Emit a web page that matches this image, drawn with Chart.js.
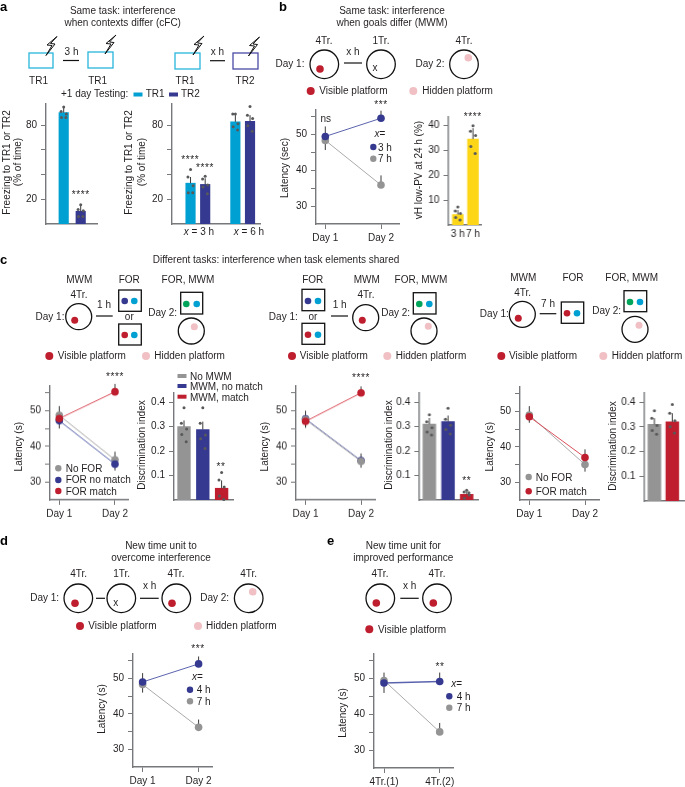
<!DOCTYPE html>
<html>
<head>
<meta charset="utf-8">
<script src="https://cdn.jsdelivr.net/npm/chart.js@4/dist/chart.umd.min.js"></script>
<style>
  html, body { margin: 0; padding: 0; background: #fff; }
  #page { position: relative; width: 685px; height: 787px; overflow: hidden; }
  canvas { position: absolute; }
  svg { position: absolute; left: 0; top: 0; pointer-events: none; }
  svg text { font-family: "Liberation Sans", Arial, sans-serif; font-size: 10px; fill: #231f20; }
</style>
</head>
<body>
<div id="page"><svg id="art" width="685" height="787"></svg></div>
<script>
var CYAN = '#00a0d2', NAVY = '#35398f', RED = '#be1e2d', GREY = '#949494', YELLOW = '#fcd617';
var LINE_BLUE = '#5a63ad', LINE_GREY = '#aaaaaa', LINE_RED = '#d9505c';
var AXIS = '#77787b', INK = '#231f20';

// panel a
var aLeftValues = [90, 10.3];
var aLeftDots = [[94.5, 91, 89, 86, 86], [15.5, 11.8, 10.7, 6, 6]];
var aLeftErrTop = [94, 15];
var aMidValues = [33, 32, 82.6, 83];
var aMidDots = [[44, 38, 31, 25.3, 25.3], [38.5, 36.4, 31.6, 30, 24.5], [89, 89, 81, 78.7, 76], [95, 88, 85.3, 79.5, 75]];
var aMidErrTop = [38, 37, 88, 88];
var freezeTicks = [20, 40, 60, 80];
var freezeLabels = [20, 80];

// panel b
var days = ['Day 1', 'Day 2'];
var bLine3h = [49.5, 54.6];
var bLine7h = [48.4, 35.9];
var bLine3hErr = [[49.5, 52.3], [54.6, 56.7]];
var bLine7hErr = [[45.7, 48.4], [35.9, 38.6]];
var latencyTicks = [30, 35, 40, 45, 50, 55];
var latencyLabels = [30, 40, 50];
var bBarValues = [4.2, 34.6];
var bBarDots = [[7.2, 5.6, 4.6, 3, 2], [40, 37.8, 36, 31.6, 28.8]];
var bBarErrTop = [6, 39];
var bBarCats = ['3 h', '7 h'];
var pvTicks = [10, 20, 30, 40];

// panel c
var c1NoFor = [48.7, 36.2];
var c1NoMatch = [47.2, 35];
var c1Match = [47.8, 55.3];
var c1NoForErr = [[48.7, 51.3], [36.2, 38.5]];
var c1NoMatchErr = [[45, 47.2], [33.2, 35]];
var c1MatchErr = [[47.8, 49], [55.3, 57.5]];
var c1Values = [0.3, 0.288, 0.048];
var c1Dots = [[0.377, 0.313, 0.29, 0.268, 0.238], [0.377, 0.313, 0.265, 0.25, 0.21], [0.112, 0.082, 0.053, 0.016, 0.002]];
var c1ErrTop = [0.325, 0.32, 0.08];
var c2NoFor = [47.5, 35.8];
var c2NoMatch = [47.7, 36];
var c2Match = [47, 55];
var c2NoForErr = [[45.5, 50], [34, 38]];
var c2MatchErr = [[45.2, 47], [55, 56.8]];
var c2Values = [0.31, 0.32, 0.023];
var c2Dots = [[0.348, 0.32, 0.295, 0.278, 0.265], [0.375, 0.33, 0.305, 0.288, 0.27], [0.04, 0.033, 0.02, 0.007, 0.03]];
var c2ErrTop = [0.335, 0.345, 0.035];
var c3NoFor = [49, 35];
var c3Match = [48.5, 37];
var c3NoForErr = [[49, 51.5], [33, 35]];
var c3MatchErr = [[46.8, 48.5], [37, 39.3]];
var c3Values = [0.31, 0.32];
var c3Dots = [[0.365, 0.335, 0.305, 0.285, 0.27], [0.39, 0.355, 0.325, 0.3, 0.275]];
var c3ErrTop = [0.335, 0.355];
var indexTicks = [0.1, 0.2, 0.3, 0.4];

// panels d, e
var d4h = [49, 54.1];
var d7h = [48.3, 36.2];
var d4hErr = [[49, 51.5], [54.1, 56.2]];
var d7hErr = [[46, 48.3], [36.2, 38.4]];
var eCats = ['4Tr.(1)', '4Tr.(2)'];
var e4h = [48.8, 49.2];
var e7h = [49.5, 35.1];
var e4hErr = [[46, 48.8], [49.2, 51.7]];
var e7hErr = [[49.5, 51.7], [35.1, 37.6]];

var page = document.getElementById('page');
var art = document.getElementById('art');
var dotJitterPx = [0, -2.6, 2.6, -2.2, 2.2];
var FONT = { family: '"Liberation Sans", Arial, sans-serif', size: 10 };

Chart.defaults.color = INK;
Chart.defaults.font.family = FONT.family;
Chart.defaults.font.size = FONT.size;

// a canvas placed so that its plot area lands on the given axis box
function place(box, config) {
    var W = 40, H = 30, T = 8, R = 8;
    var c = document.createElement('canvas');
    var w = W + box.x1 - box.x0 + R, h = T + box.y1 - box.y0 + H;
    c.width = w; c.height = h;
    c.style.left = (box.x0 - W) + 'px';
    c.style.top = (box.y0 - T) + 'px';
    c.style.width = w + 'px'; c.style.height = h + 'px';
    page.insertBefore(c, art);
    config.options.responsive = false;
    config.options.animation = false;
    config.options.layout = { padding: { top: T, right: R, left: 0, bottom: 0 } };
    config.options.plugins = { legend: { display: false }, tooltip: { enabled: false } };
    config.options.scales.x.afterFit = function (s) { s.height = H; };
    config.options.scales.y.afterFit = function (s) { s.width = W; };
    return new Chart(c.getContext('2d'), config);
}

function yAxis(min, max, ticks, labels) {
    return {
        type: 'linear', min: min, max: max,
        afterBuildTicks: function (s) { s.ticks = ticks.map(function (v) { return { value: v }; }); },
        border: { color: AXIS, width: 1.4 },
        grid: { drawOnChartArea: false, color: AXIS, tickLength: 5, tickWidth: 1 },
        ticks: {
            autoSkip: false, padding: 4, color: INK,
            callback: function (v) { return labels.indexOf(v) >= 0 ? String(v) : ''; }
        }
    };
}

function errorSet(x, lo, hi) {
    return {
        type: 'line', data: [{ x: x, y: lo }, { x: x, y: hi }], borderColor: '#3a3a3a',
        borderWidth: 1, pointRadius: 0, clip: false
    };
}

function barPanel(p) {
    var pxPerUnit = p.spacing;
    var sets = [];
    var dots = [];
    p.dots.forEach(function (list, i) {
        list.forEach(function (v, j) { dots.push({ x: p.xs[i] + dotJitterPx[j] / pxPerUnit, y: v }); });
    });
    sets.push({ type: 'scatter', data: dots, pointRadius: 1.5, pointBackgroundColor: '#58595b', pointBorderWidth: 0, clip: false });
    p.values.forEach(function (v, i) { sets.push(errorSet(p.xs[i], v, p.errTop[i])); });
    sets.push({
        type: 'bar',
        data: p.values.map(function (v, i) { return { x: p.xs[i], y: v }; }),
        backgroundColor: p.colors, barThickness: p.thick, borderWidth: 0
    });
    var xMin = p.xs[0] - (p.xFirst - p.box.x0) / pxPerUnit;
    var xMax = xMin + (p.box.x1 - p.box.x0) / pxPerUnit;
    place(p.box, {
        type: 'bar',
        data: { datasets: sets },
        options: {
            scales: {
                x: {
                    type: 'linear', min: xMin, max: xMax, offset: false,
                    afterBuildTicks: function (s) {
                        s.ticks = p.cats ? p.xs.map(function (v) { return { value: v }; }) : [];
                    },
                    border: { color: AXIS, width: 1.4 },
                    grid: { display: false, drawTicks: false },
                    ticks: {
                        autoSkip: false, maxRotation: 0, padding: 3, color: INK, display: !!p.cats,
                        callback: function (v) { return p.cats ? p.cats[p.xs.indexOf(v)] : ''; }
                    }
                },
                y: yAxis(p.yMin, p.yMax, p.yTicks, p.yLabels)
            }
        }
    });
}

function linePanel(p) {
    var sets = [];
    p.series.forEach(function (s) {
        sets.push({
            type: 'line',
            data: s.values.map(function (v, i) { return { x: i + 1, y: v }; }),
            borderColor: s.line, borderWidth: s.width || 1, tension: 0,
            pointRadius: 3.8, pointBackgroundColor: s.color, pointBorderWidth: 0, clip: false
        });
    });
    p.series.forEach(function (s) {
        (s.err || []).forEach(function (e, i) { sets.push(errorSet(i + 1, e[0], e[1])); });
    });
    var unit = p.xDay2 - p.xDay1;
    var xMin = 1 - (p.xDay1 - p.box.x0) / unit;
    var xMax = xMin + (p.box.x1 - p.box.x0) / unit;
    place(p.box, {
        type: 'line',
        data: { datasets: sets },
        options: {
            scales: {
                x: {
                    type: 'linear', min: xMin, max: xMax,
                    afterBuildTicks: function (s) { s.ticks = [{ value: 1 }, { value: 2 }]; },
                    border: { color: AXIS, width: 1.4 },
                    grid: { drawOnChartArea: false, color: AXIS, tickLength: 5 },
                    ticks: {
                        autoSkip: false, maxRotation: 0, padding: 3, color: INK,
                        callback: function (v) { return p.cats[v - 1]; }
                    }
                },
                y: yAxis(25, 56.9, latencyTicks, latencyLabels)
            }
        }
    });
}

// ---------- the charts ----------
barPanel({ box: { x0: 46, x1: 97, y0: 102, y1: 224 }, xs: [1, 2], xFirst: 63.7, spacing: 17, thick: 9.5,
    values: aLeftValues, dots: aLeftDots, errTop: aLeftErrTop, colors: [CYAN, NAVY],
    yMin: 0, yMax: 97, yTicks: freezeTicks, yLabels: freezeLabels });
barPanel({ box: { x0: 171.7, x1: 260, y0: 102, y1: 224 }, xs: [1, 2, 4.06, 5.06], xFirst: 190.3, spacing: 14.7, thick: 9.5,
    values: aMidValues, dots: aMidDots, errTop: aMidErrTop, colors: [CYAN, NAVY, CYAN, NAVY],
    yMin: 0, yMax: 97, yTicks: freezeTicks, yLabels: freezeLabels });

linePanel({ box: { x0: 316, x1: 399, y0: 108.3, y1: 224.3 }, xDay1: 325.3, xDay2: 381, cats: days, series: [
    { values: bLine3h, color: NAVY, line: LINE_BLUE, err: bLine3hErr },
    { values: bLine7h, color: GREY, line: LINE_GREY, err: bLine7hErr }] });
barPanel({ box: { x0: 448.3, x1: 481, y0: 115, y1: 225 }, xs: [1, 2], xFirst: 457.7, spacing: 15.3, thick: 10.7,
    values: bBarValues, dots: bBarDots, errTop: bBarErrTop, colors: [YELLOW, YELLOW], cats: bBarCats,
    yMin: 0, yMax: 43.5, yTicks: pvTicks, yLabels: pvTicks });

linePanel({ box: { x0: 50, x1: 128, y0: 384.3, y1: 500 }, xDay1: 59.3, xDay2: 115, cats: days, series: [
    { values: c1Match, color: RED, line: LINE_RED, err: c1MatchErr },
    { values: c1NoMatch, color: NAVY, line: LINE_BLUE, err: c1NoMatchErr },
    { values: c1NoFor, color: GREY, line: LINE_GREY, err: c1NoForErr }] });
barPanel({ box: { x0: 174, x1: 233, y0: 390.7, y1: 500 }, xs: [1, 2, 3], xFirst: 184, spacing: 18.8, thick: 12.7,
    values: c1Values, dots: c1Dots, errTop: c1ErrTop, colors: [GREY, NAVY, RED],
    yMin: 0, yMax: 0.437, yTicks: indexTicks, yLabels: indexTicks });

linePanel({ box: { x0: 295.7, x1: 375, y0: 384.3, y1: 500 }, xDay1: 305.3, xDay2: 361, cats: days, series: [
    { values: c2Match, color: RED, line: LINE_RED, err: c2MatchErr },
    { values: c2NoFor, color: GREY, line: LINE_GREY, err: c2NoForErr },
    { values: c2NoMatch, color: NAVY, line: LINE_BLUE }] });
barPanel({ box: { x0: 419.3, x1: 478, y0: 390.7, y1: 500 }, xs: [1, 2, 3], xFirst: 429.3, spacing: 18.7, thick: 12.7,
    values: c2Values, dots: c2Dots, errTop: c2ErrTop, colors: [GREY, NAVY, RED],
    yMin: 0, yMax: 0.437, yTicks: indexTicks, yLabels: indexTicks });

linePanel({ box: { x0: 520, x1: 599, y0: 385, y1: 500 }, xDay1: 529.3, xDay2: 585, cats: days, series: [
    { values: c3Match, color: RED, line: LINE_RED, err: c3MatchErr },
    { values: c3NoFor, color: GREY, line: LINE_GREY, err: c3NoForErr }] });
barPanel({ box: { x0: 644.3, x1: 684, y0: 391, y1: 501 }, xs: [1, 2], xFirst: 654.3, spacing: 18, thick: 12.7,
    values: c3Values, dots: c3Dots, errTop: c3ErrTop, colors: [GREY, RED],
    yMin: 0, yMax: 0.437, yTicks: indexTicks, yLabels: indexTicks });

linePanel({ box: { x0: 132.7, x1: 211.7, y0: 651.7, y1: 767.3 }, xDay1: 142.3, xDay2: 198.3, cats: days, series: [
    { values: d4h, color: NAVY, line: LINE_BLUE, err: d4hErr },
    { values: d7h, color: GREY, line: LINE_GREY, err: d7hErr }] });
linePanel({ box: { x0: 374.3, x1: 453.3, y0: 652.3, y1: 768.3 }, xDay1: 384.3, xDay2: 440, cats: eCats, series: [
    { values: e4h, color: NAVY, line: LINE_BLUE, width: 1.6, err: e4hErr },
    { values: e7h, color: GREY, line: LINE_GREY, err: e7hErr }] });

// ---------- text and schematics ----------
var NS = 'http://www.w3.org/2000/svg';
function el(name, attrs) {
    var e = document.createElementNS(NS, name);
    for (var k in attrs) e.setAttribute(k, attrs[k]);
    art.appendChild(e);
    return e;
}
function txt(x, y, s, anchor, extra) {
    var e = el('text', Object.assign({ x: x, y: y, 'text-anchor': anchor || 'middle' }, extra || {}));
    e.innerHTML = s;
    return e;
}
function stars(x, y, s) { return txt(x, y, s, 'middle', { 'letter-spacing': '0.6' }); }
function vtxt(x, y, s) { return el('text', { transform: 'translate(' + x + ',' + y + ') rotate(-90)', 'text-anchor': 'middle', 'dominant-baseline': 'central' }).innerHTML = s; }
function dot(x, y, r, c) { el('circle', { cx: x, cy: y, r: r, fill: c }); }
function ring(x, y, r) { el('circle', { cx: x, cy: y, r: r, fill: 'none', stroke: '#111', 'stroke-width': 1.3 }); }
function box(x0, y0, x1, y1, c, w) { el('rect', { x: x0, y: y0, width: x1 - x0, height: y1 - y0, fill: 'none', stroke: c, 'stroke-width': w }); }
function link(x0, x1, y) { el('line', { x1: x0, x2: x1, y1: y, y2: y, stroke: '#111', 'stroke-width': 1.2 }); }
function bolt(x, y) {
    var pts = [[11, -19], [1, -10.5], [6, -10], [0, 0], [9, -11.5], [4.5, -12]].map(function (p) { return [x + p[0], y + p[1]]; });
    el('polygon', { points: pts.join(' '), fill: 'none', stroke: '#111', 'stroke-width': 1 });
}
function letter(x, y, s) { txt(x, y, s, 'start', { style: 'font-weight:bold;font-size:13px;fill:#000' }); }
function swatch(x, y, c) { el('rect', { x: x, y: y, width: 9, height: 4, fill: c }); }
function vis(x, tx, y) { dot(x, y, 4, RED); txt(tx, y + 3.4, 'Visible platform', 'start'); }
function hid(x, tx, y) { dot(x, y, 4, '#f0c0c4'); txt(tx, y + 3.4, 'Hidden platform', 'start'); }
var X_ITALIC = '<tspan font-style="italic">x</tspan>';
var PINK = '#f0c0c4';

letter(0, 10.5, 'a'); letter(279, 10.5, 'b'); letter(0, 264, 'c'); letter(0, 545, 'd'); letter(327, 545, 'e');

// a
txt(122.7, 13.5, 'Same task: interference'); txt(122.7, 25.5, 'when contexts differ (cFC)');
box(29, 53, 53, 68, '#29b6dc', 1.3); box(88, 52, 113, 68, '#29b6dc', 1.3); box(175, 53, 200, 69, '#29b6dc', 1.3); box(233, 53, 258, 69, '#4a4aa5', 1.3);
bolt(46, 55.5); bolt(105, 54); bolt(193, 55); bolt(248.5, 56);
link(63, 79, 60.5); txt(71.5, 55, '3 h'); link(210, 225, 60.7); txt(217.5, 55, 'x h');
txt(38.5, 83.5, 'TR1'); txt(97.7, 83.5, 'TR1'); txt(185, 83.5, 'TR1'); txt(245, 83.5, 'TR2');
txt(61, 97, '+1 day Testing:', 'start'); swatch(133.5, 92.5, CYAN); txt(145.7, 97, 'TR1', 'start'); swatch(169, 92.5, NAVY); txt(181, 97, 'TR2', 'start');
vtxt(6, 162.5, 'Freezing to TR1 or TR2'); vtxt(17.5, 162, '(% of time)');
vtxt(128.5, 162.5, 'Freezing to TR1 or TR2'); vtxt(141, 162, '(% of time)');
stars(80.7, 198, '****'); stars(190.3, 163, '****'); stars(205, 171, '****');
txt(199, 235, X_ITALIC + ' = 3 h'); txt(249, 235, X_ITALIC + ' = 6 h');

// b
txt(392, 14, 'Same task: interference'); txt(392, 26, 'when goals differ (MWM)');
ring(324.3, 64.3, 14.3); dot(320, 69, 3.8, RED); txt(324, 43.5, '4Tr.'); txt(290, 67, 'Day 1:');
link(344, 362, 63); txt(353, 55, 'x h');
ring(381, 64.3, 14.3); txt(375, 71, 'x'); txt(381, 43.5, '1Tr.');
ring(464, 64.3, 14.3); dot(468.3, 57.7, 3.8, PINK); txt(464, 43.5, '4Tr.'); txt(430, 67, 'Day 2:');
vis(310.7, 319.3, 91); hid(413.3, 422.3, 91);
vtxt(284, 168, 'Latency (sec)'); vtxt(418, 170, 'vH low-PV at 24 h (%)');
txt(380, 137, X_ITALIC + '='); dot(373.3, 147, 3.2, NAVY); txt(378, 150.7, '3 h', 'start'); dot(373.3, 158.7, 3.2, GREY); txt(378, 162.2, '7 h', 'start');
txt(325.7, 122, 'ns'); stars(381, 108, '***'); stars(472.7, 120, '****');

// c
txt(276, 262.5, 'Different tasks: interference when task elements shared');
txt(79.3, 283, 'MWM'); txt(129.3, 283, 'FOR'); txt(188, 283, 'FOR, MWM'); txt(79, 297.5, '4Tr.'); txt(50, 319.5, 'Day 1:');
ring(78.7, 316.7, 13); dot(74.7, 320.3, 3.5, RED); link(96, 112.7, 316); txt(104, 308, '1 h');
box(118.7, 290, 141.3, 311.3, '#111', 1.3); dot(124.7, 301, 3.3, NAVY); dot(134.3, 301, 3.3, CYAN); txt(129.3, 319.5, 'or');
box(118.7, 324, 141.3, 345, '#111', 1.3); dot(124.7, 335, 3.3, RED); dot(134.3, 335, 3.3, CYAN);
txt(162.7, 315.5, 'Day 2:'); box(180.7, 292.3, 202.7, 314, '#111', 1.3); dot(186.3, 304, 3.3, '#00a55a'); dot(196.7, 304, 3.3, CYAN);
ring(191.3, 331, 13); dot(194.3, 326.7, 3.5, PINK);
vis(49.3, 57.7, 356); hid(146, 154.3, 356);

txt(312.7, 283, 'FOR'); txt(366.7, 283, 'MWM'); txt(421, 283, 'FOR, MWM'); txt(366, 297.5, '4Tr.'); txt(283.3, 319.5, 'Day 1:');
box(302, 289.3, 324.7, 310.7, '#111', 1.3); dot(308, 301, 3.3, NAVY); dot(318, 301, 3.3, CYAN); txt(313, 319.5, 'or');
box(302, 323.3, 324.7, 344.3, '#111', 1.3); dot(308, 334.7, 3.3, RED); dot(318, 334.7, 3.3, CYAN);
link(331, 348, 316); txt(339.7, 308, '1 h'); ring(365.7, 317.7, 13); dot(362.3, 320.3, 3.5, RED);
txt(395.7, 315.5, 'Day 2:'); box(413.3, 292.7, 436, 314, '#111', 1.3); dot(419.3, 304, 3.3, '#00a55a'); dot(429.3, 304, 3.3, CYAN);
ring(424, 331, 13); dot(428.3, 326.3, 3.5, PINK);
vis(292, 299.7, 356); hid(387.3, 395.7, 356);

txt(523.3, 281, 'MWM'); txt(573, 281, 'FOR'); txt(631.7, 281, 'FOR, MWM'); txt(522.7, 295.5, '4Tr.'); txt(494.3, 317, 'Day 1:');
ring(522.3, 314.3, 13); dot(518.3, 318.3, 3.5, RED); link(539.7, 556.3, 313.7); txt(548, 306.7, '7 h');
box(561.3, 302, 583.7, 323.3, '#111', 1.3); dot(567, 313.3, 3.3, RED); dot(577, 313.3, 3.3, CYAN);
txt(606.7, 314, 'Day 2:'); box(624, 290.7, 646.7, 311.7, '#111', 1.3); dot(630, 302, 3.3, '#00a55a'); dot(640, 302, 3.3, CYAN);
ring(635, 329.3, 13); dot(639, 325.3, 3.5, PINK);
vis(501.3, 509, 356); hid(603.3, 611.7, 356);

vtxt(18.3, 446.7, 'Latency (s)'); vtxt(141.7, 445, 'Discrimination index');
vtxt(264.3, 446.7, 'Latency (s)'); vtxt(388.3, 445, 'Discrimination index');
vtxt(489, 446.7, 'Latency (s)'); vtxt(612.3, 446, 'Discrimination index');
stars(115, 380, '****'); stars(221, 470, '**'); stars(361, 381, '****'); stars(466.7, 484, '**');
dot(58.3, 468.3, 3.2, GREY); txt(65.7, 471.7, 'No FOR', 'start'); dot(58.3, 480, 3.2, NAVY); txt(65.7, 483.3, 'FOR no match', 'start'); dot(58.3, 491, 3.2, RED); txt(65.7, 494.7, 'FOR match', 'start');
swatch(177.5, 374, GREY); txt(190, 380, 'No MWM', 'start'); swatch(177.5, 384, NAVY); txt(190, 390.3, 'MWM, no match', 'start'); swatch(177.5, 394.7, RED); txt(190, 401, 'MWM, match', 'start');
dot(528.7, 477, 3.2, GREY); txt(535.7, 480.5, 'No FOR', 'start'); dot(528.7, 491.3, 3.2, RED); txt(535.7, 494.7, 'FOR match', 'start');

// d
txt(161, 548.5, 'New time unit to'); txt(161, 560.5, 'overcome interference');
txt(78.7, 577, '4Tr.'); txt(121.7, 577, '1Tr.'); txt(176, 577, '4Tr.'); txt(248.7, 577, '4Tr.');
txt(44.7, 601, 'Day 1:'); txt(214.7, 601, 'Day 2:');
ring(78.3, 598.3, 14.3); ring(121.3, 598.3, 14.3); ring(176.3, 598.3, 14.3); ring(248.7, 598.3, 14.3);
link(96, 105, 598.3); link(140, 158.7, 598.3); txt(149.7, 589, 'x h'); txt(115.7, 606, 'x');
dot(75, 603.3, 3.8, RED); dot(172, 603.3, 3.8, RED); dot(252.7, 591.7, 3.8, PINK);
vis(80, 88.3, 626); hid(198, 206, 626);
vtxt(101, 709, 'Latency (s)'); stars(198, 652, '***');
txt(197.3, 680, X_ITALIC + '='); dot(190, 689.7, 3.2, NAVY); txt(196.7, 693, '4 h', 'start'); dot(190, 701.3, 3.2, GREY); txt(196.7, 704.5, '7 h', 'start');

// e
txt(403.3, 548.5, 'New time unit for'); txt(403.3, 560.5, 'improved performance');
txt(380, 577, '4Tr.'); txt(437, 577, '4Tr.');
ring(380.3, 598.3, 14.3); ring(437, 598.3, 14.3); dot(376.3, 603, 3.8, RED); dot(433.3, 603, 3.8, RED);
link(400.3, 418.7, 598.3); txt(409.7, 589, 'x h');
vis(369.3, 378, 629.3);
vtxt(342.7, 713, 'Latency (s)'); stars(440, 670, '**');
txt(456.7, 687, X_ITALIC + '='); dot(449.3, 696.3, 3.2, NAVY); txt(456.7, 699.5, '4 h', 'start'); dot(449.3, 707.7, 3.2, GREY); txt(456.7, 711, '7 h', 'start');
</script>
</body>
</html>
